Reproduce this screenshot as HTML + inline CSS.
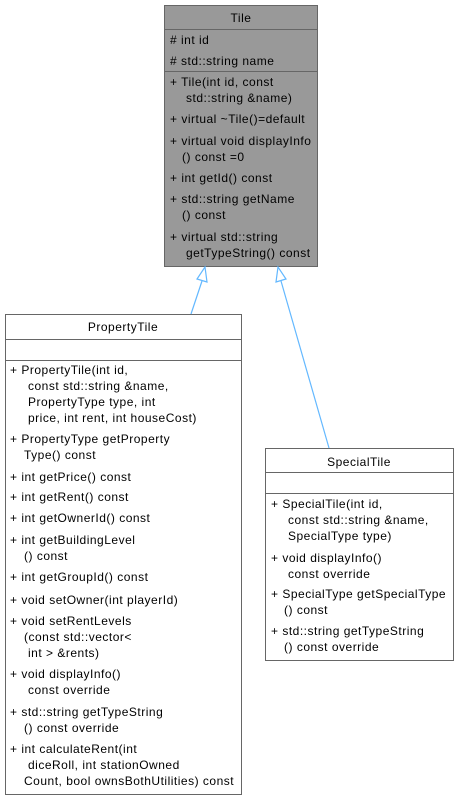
<!DOCTYPE html>
<html><head><meta charset="utf-8"><style>
html,body{margin:0;padding:0;background:#fff;}
svg{display:block;}
text{font-family:"Liberation Sans",sans-serif;font-size:12px;letter-spacing:0.5px;fill:#000;}
</style></head><body>
<svg width="459" height="800" viewBox="0 0 459 800">
<!-- Tile -->
<rect x="164.5" y="5.5" width="153" height="261" fill="#999" stroke="#666"/>
<line x1="164" y1="29.5" x2="318" y2="29.5" stroke="#666"/>
<line x1="164" y1="71.5" x2="318" y2="71.5" stroke="#666"/>
<text x="241" y="22" text-anchor="middle">Tile</text>
<text x="170" y="44"># int id</text>
<text x="170" y="65"># std::string name</text>
<text x="170" y="86">+ Tile(int id, const</text>
<text x="186" y="102">std::string &amp;name)</text>
<text x="170" y="123">+ virtual ~Tile()=default</text>
<text x="170" y="145">+ virtual void displayInfo</text>
<text x="182" y="161">() const =0</text>
<text x="170" y="182">+ int getId() const</text>
<text x="170" y="203">+ std::string getName</text>
<text x="182" y="219">() const</text>
<text x="170" y="241">+ virtual std::string</text>
<text x="186" y="257">getTypeString() const</text>

<!-- PropertyTile -->
<rect x="5.5" y="314.5" width="236" height="480" fill="#fff" stroke="#666"/>
<line x1="5" y1="339.5" x2="242" y2="339.5" stroke="#666"/>
<line x1="5" y1="360.5" x2="242" y2="360.5" stroke="#666"/>
<text x="123" y="331" text-anchor="middle">PropertyTile</text>
<text x="10" y="374">+ PropertyTile(int id,</text>
<text x="28" y="390">const std::string &amp;name,</text>
<text x="28" y="406">PropertyType type, int</text>
<text x="28" y="422">price, int rent, int houseCost)</text>
<text x="10" y="443">+ PropertyType getProperty</text>
<text x="24" y="459">Type() const</text>
<text x="10" y="481">+ int getPrice() const</text>
<text x="10" y="501">+ int getRent() const</text>
<text x="10" y="522">+ int getOwnerId() const</text>
<text x="10" y="544">+ int getBuildingLevel</text>
<text x="24" y="560">() const</text>
<text x="10" y="581">+ int getGroupId() const</text>
<text x="10" y="604">+ void setOwner(int playerId)</text>
<text x="10" y="625">+ void setRentLevels</text>
<text x="24" y="641">(const std::vector&lt;</text>
<text x="28" y="657">int &gt; &amp;rents)</text>
<text x="10" y="678">+ void displayInfo()</text>
<text x="28" y="694">const override</text>
<text x="10" y="716">+ std::string getTypeString</text>
<text x="24" y="732">() const override</text>
<text x="10" y="753">+ int calculateRent(int</text>
<text x="28" y="769">diceRoll, int stationOwned</text>
<text x="24" y="785">Count, bool ownsBothUtilities) const</text>

<!-- SpecialTile -->
<rect x="265.5" y="448.5" width="188" height="212" fill="#fff" stroke="#666"/>
<line x1="265" y1="472.5" x2="454" y2="472.5" stroke="#666"/>
<line x1="265" y1="493.5" x2="454" y2="493.5" stroke="#666"/>
<text x="359" y="466" text-anchor="middle">SpecialTile</text>
<text x="271" y="508">+ SpecialTile(int id,</text>
<text x="288" y="524">const std::string &amp;name,</text>
<text x="288" y="540">SpecialType type)</text>
<text x="271" y="562">+ void displayInfo()</text>
<text x="288" y="578">const override</text>
<text x="271" y="598">+ SpecialType getSpecialType</text>
<text x="284" y="614">() const</text>
<text x="271" y="635">+ std::string getTypeString</text>
<text x="284" y="651">() const override</text>

<!-- arrows -->
<g stroke="#63b8ff" stroke-width="1.2" fill="#fff">
<line x1="191" y1="314" x2="202" y2="281"/>
<polygon points="205,267 197,279 207,282"/>
<line x1="329" y1="448" x2="281" y2="281"/>
<polygon points="278,267 276,282 286,279"/>
</g>
</svg>
</body></html>
